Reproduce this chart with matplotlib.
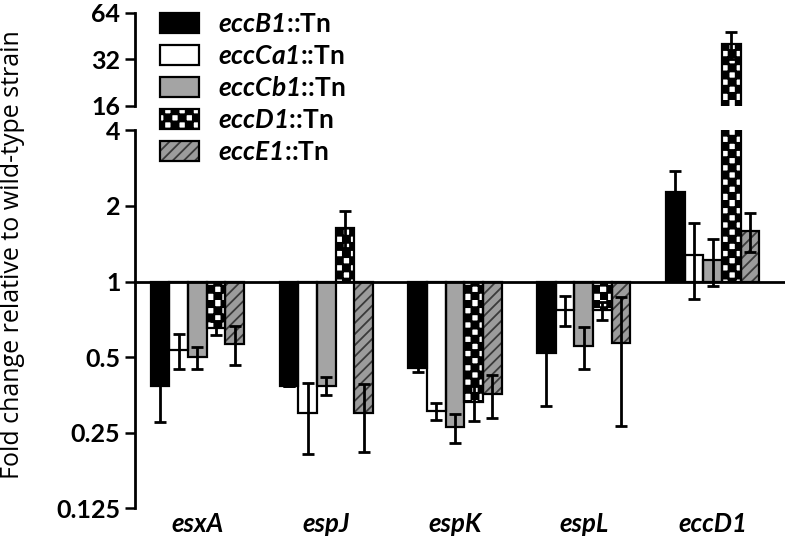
import warnings
import numpy as np
import matplotlib
matplotlib.use('Agg')
import matplotlib.pyplot as plt
import matplotlib.hatch as mhatch
from matplotlib.path import Path
from matplotlib.patches import Patch
from matplotlib.legend_handler import HandlerTuple
from matplotlib.ticker import FixedLocator, FixedFormatter, NullLocator

warnings.filterwarnings('ignore')

genes = ['esxA', 'espJ', 'espK', 'espL', 'eccD1']
strains = ['eccB1', 'eccCa1', 'eccCb1', 'eccD1', 'eccE1']

# mean fold change (relative to wild type), one value per gene
eccB1 = [0.385, 0.385, 0.452, 0.517, 2.27]
eccCa1 = [0.534, 0.30, 0.304, 0.767, 1.28]
eccCb1 = [0.50, 0.385, 0.263, 0.555, 1.22]
eccD1 = [0.654, 1.63, 0.331, 0.767, 40.0]
eccE1 = [0.563, 0.30, 0.355, 0.567, 1.59]

# error bars
eccB1_err = [0.108, 0.0, 0.017, 0.197, 0.49]
eccCa1_err = [0.085, 0.095, 0.023, 0.105, 0.43]
eccCb1_err = [0.05, 0.032, 0.035, 0.105, 0.26]
eccD1_err = [0.04, 0.27, 0.052, 0.065, 8.0]
eccE1_err = [0.10, 0.09, 0.07, 0.30, 0.28]

lower_ticks = [0.125, 0.25, 0.5, 1, 2, 4]
lower_labels = ['0.125', '0.25', '0.5', '1', '2', '4']
upper_ticks = [16, 32, 64]
upper_labels = ['16', '32', '64']


# checkerboard hatch ('c'), not available in matplotlib by default
class CheckerHatch(mhatch.HatchPatternBase):
    def __init__(self, hatch, density):
        self.n = 14 if 'c' in hatch else 0
        self.num_vertices = 5 * (self.n * self.n // 2)
        self.filled = True

    def set_vertices_and_codes(self, vertices, codes):
        s = 1.0 / self.n
        k = 0
        for i in range(self.n):
            for j in range(self.n):
                if (i + j) % 2 == 0:
                    x0, y0 = i * s, j * s
                    vertices[k:k + 5] = [(x0, y0), (x0 + s, y0), (x0 + s, y0 + s),
                                         (x0, y0 + s), (x0, y0)]
                    codes[k:k + 5] = [Path.MOVETO, Path.LINETO, Path.LINETO,
                                      Path.LINETO, Path.CLOSEPOLY]
                    k += 5


mhatch._hatch_types.append(CheckerHatch)

plt.rcParams['font.family'] = ['Lato', 'DejaVu Sans']
plt.rcParams['mathtext.fontset'] = 'custom'
plt.rcParams['mathtext.it'] = 'Lato:italic:bold'
plt.rcParams['mathtext.rm'] = 'Lato:italic:bold'
plt.rcParams['hatch.linewidth'] = 1.3

values = [eccB1, eccCa1, eccCb1, eccD1, eccE1]
errors = [eccB1_err, eccCa1_err, eccCb1_err, eccD1_err, eccE1_err]
faces = ['black', 'white', '#a4a4a4', 'white', '#9c9c9c']
hatches = [None, None, None, 'c', '///']
hatch_cols = ['black', 'white', '#a4a4a4', 'black', '#3a3a3a']

fig = plt.figure(figsize=(7.85, 5.38), dpi=100)
ax_top = fig.add_axes([0.172, 0.803, 0.828, 0.1734])
ax_bot = fig.add_axes([0.172, 0.0552, 0.828, 0.7026])

w = 0.145
xg = np.arange(len(genes))

for ax in (ax_top, ax_bot):
    ax.set_yscale('log', base=2)
    for i in range(5):
        x = xg + (i - 2) * w
        v = np.array(values[i])
        ax.bar(x, v - 1, bottom=1, width=w, color=faces[i], edgecolor=hatch_cols[i],
               lw=0, hatch=hatches[i], zorder=2)
        ax.bar(x, v - 1, bottom=1, width=w, fill=False, edgecolor='black', lw=1.6, zorder=2.1)
        ax.errorbar(x, v, yerr=errors[i], fmt='none', ecolor='black', elinewidth=2,
                    capsize=4.5, capthick=2, zorder=3)
    ax.set_xlim(-0.485, 4.563)
    for s in ('top', 'right', 'bottom'):
        ax.spines[s].set_visible(False)
    ax.spines['left'].set_linewidth(2)
    ax.yaxis.set_minor_locator(NullLocator())
    ax.tick_params(axis='y', length=7, width=1.8, pad=3.5, labelsize=18)

ax_bot.set_ylim(0.125, 4)
ax_bot.yaxis.set_major_locator(FixedLocator(lower_ticks))
ax_bot.yaxis.set_major_formatter(FixedFormatter(lower_labels))
ax_top.set_ylim(16, 64)
ax_top.yaxis.set_major_locator(FixedLocator(upper_ticks))
ax_top.yaxis.set_major_formatter(FixedFormatter(upper_labels))
for ax in (ax_top, ax_bot):
    for lab in ax.get_yticklabels():
        lab.set_fontweight('bold')

ax_bot.axhline(1, color='black', lw=2, zorder=4, clip_on=False)
ax_bot.set_xticks(xg)
ax_bot.set_xticklabels(genes, fontstyle='italic', fontweight='bold', fontsize=18.5)
ax_bot.tick_params(axis='x', length=0, pad=3)
ax_top.set_xticks([])

fig.text(0.0153, 0.526, 'Fold change relative to wild-type strain', rotation=90,
         ha='center', va='center', fontsize=18, family=['Open Sans', 'DejaVu Sans'])

handles = []
labels = []
for i in range(5):
    h1 = Patch(facecolor=faces[i], edgecolor=hatch_cols[i], lw=0, hatch=hatches[i])
    h2 = Patch(fill=False, edgecolor='black', lw=1.6)
    handles.append((h1, h2))
    labels.append(r'$\mathit{' + strains[i] + r'}$::Tn')
fig.legend(handles, labels, handler_map={tuple: HandlerTuple(ndivide=1)},
           loc='upper left', bbox_to_anchor=(0.204, 0.977), frameon=False,
           prop={'weight': 'bold', 'size': 19},
           handlelength=1.48, handleheight=0.8, labelspacing=0.3,
           handletextpad=0.7, borderpad=0, borderaxespad=0)

fig.savefig('out.png', dpi=100)
